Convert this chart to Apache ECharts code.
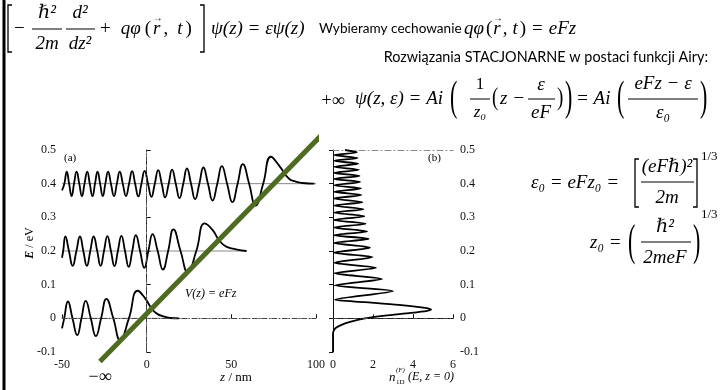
<!DOCTYPE html>
<html>
<head>
<meta charset="utf-8">
<script src="https://cdn.jsdelivr.net/npm/echarts@6/dist/echarts.min.js"></script>
<style>
html, body { margin: 0; padding: 0; background: #fff; }
#chart { width: 724px; height: 390px; }
</style>
</head>
<body>
<div id="chart"></div>
<script>
// funkcje falowe Airy'ego dla trzech poziomow [z (nm), E (eV)]
let psi04 = [[-50, 0.38], [-48.6, 0.4], [-47.2, 0.436], [-45.8, 0.4], [-44.3, 0.363], [-42.9, 0.4], [-41.4, 0.436],
	[-39.8, 0.4], [-38.2, 0.363], [-36.7, 0.4], [-35.1, 0.436], [-33.6, 0.4], [-32, 0.363], [-30.5, 0.4], [-29, 0.436],
	[-27.5, 0.4], [-25.9, 0.363], [-24.4, 0.4], [-22.8, 0.436], [-21.1, 0.4], [-19.3, 0.363], [-17.6, 0.4], [-15.9, 0.436],
	[-14.1, 0.4], [-12.2, 0.363], [-10.4, 0.4], [-8.6, 0.437], [-6.8, 0.4], [-4.9, 0.362], [-3.1, 0.4], [-1.2, 0.438],
	[0.8, 0.4], [2.8, 0.361], [4.8, 0.4], [6.8, 0.44], [8.9, 0.4], [10.9, 0.359], [13, 0.4], [15, 0.442], [17.2, 0.4],
	[19.4, 0.357], [21.6, 0.4], [23.8, 0.445], [26.2, 0.4], [28.6, 0.354], [31.1, 0.4], [33.5, 0.448], [36.2, 0.4],
	[38.9, 0.35], [41.7, 0.4], [44.4, 0.452], [47.5, 0.4], [50.6, 0.345], [53.7, 0.4], [56.8, 0.458], [60.5, 0.4],
	[64.3, 0.335], [68.8, 0.4], [73.4, 0.48], [78, 0.455], [84, 0.415], [88, 0.406], [92, 0.402], [99, 0.4]]
let psi02 = [[-50, 0.18], [-49.3, 0.2], [-48, 0.243], [-45.9, 0.2], [-43.7, 0.156], [-41.5, 0.2], [-39.4, 0.243],
	[-37.4, 0.2], [-35.3, 0.156], [-33.3, 0.2], [-31.3, 0.243], [-29.2, 0.2], [-27.2, 0.156], [-25.2, 0.2],
	[-23.2, 0.244], [-21.1, 0.2], [-19, 0.155], [-17, 0.2], [-14.9, 0.245], [-12.8, 0.2], [-10.6, 0.153], [-8.5, 0.2],
	[-6.4, 0.247], [-3.9, 0.2], [-1.4, 0.15], [1, 0.2], [3.5, 0.25], [6.5, 0.2], [9.6, 0.145], [12.7, 0.2],
	[15.8, 0.264], [20, 0.2], [24.3, 0.137], [29.3, 0.2], [34.3, 0.282], [39, 0.262], [43, 0.23], [47, 0.213],
	[52.7, 0.205], [59, 0.2]]
let psi00 = [[-50, -0.03], [-48.7, 0], [-46.5, 0.05], [-43.8, 0], [-41, -0.05], [-38.5, 0], [-36, 0.052], [-33, 0],
	[-30, -0.053], [-26.9, 0], [-23.8, 0.058], [-19.7, 0], [-15.6, -0.065], [-10.5, 0], [-5.3, 0.082], [-1, 0.06],
	[2.8, 0.03], [6, 0.014], [10.6, 0.005], [14, 0.001], [19, 0]]
// linie odniesienia poziomow energii [E, z od, z do]
let levels = [[0.4, -50, 100], [0.2, -50, 59], [0, -50, 19]]
// potencjal V(z) = eFz (zielona prosta)
let potential = [[-27.6, -0.128], [113.5, 0.597]]
// gestosc stanow n_1D(E, z=0) [n, E]
let dos = [[0, -0.1], [0, -0.045], [0.05, -0.035], [0.15, -0.028], [0.4, -0.02], [0.9, -0.01], [1.6, 0],
	[2.6, 0.008], [3.9, 0.016], [4.7, 0.022], [4.9, 0.026], [4.6, 0.031], [3.3, 0.04], [1.6, 0.048], [0.1, 0.055],
	[3.0, 0.081], [0.08, 0.098], [2.45, 0.117], [0.07, 0.134], [2.15, 0.15], [0.06, 0.165], [1.98, 0.182],
	[0.06, 0.195], [1.85, 0.21], [0.05, 0.224], [1.78, 0.236], [0.05, 0.247], [1.7, 0.258], [0.05, 0.27],
	[1.63, 0.281], [0.05, 0.292], [1.57, 0.303], [0.05, 0.314], [1.52, 0.324], [0.05, 0.335], [1.47, 0.345],
	[0.05, 0.356], [1.43, 0.366], [0.05, 0.376], [1.4, 0.386], [0.05, 0.395], [1.36, 0.405], [0.05, 0.414],
	[1.33, 0.423], [0.05, 0.432], [1.3, 0.441], [0.05, 0.45], [1.27, 0.459], [0.05, 0.468], [1.24, 0.476],
	[0.05, 0.485], [1.2, 0.493], [0.6, 0.5]]

let chart = echarts.init(document.getElementById('chart'))

let serif = "'Liberation Serif', 'DejaVu Serif', serif"
let sans = "Lato, 'Open Sans', sans-serif"
let M = 19 // rozmiar czcionki wzorow

let ctx = document.createElement('canvas').getContext('2d')
function width(s, size, it) {
	ctx.font = (it ? 'italic ' : '') + size + 'px ' + serif
	return ctx.measureText(s).width
}

function txt(x, y, s, size, o) {
	o = o || {}
	return {
		type: 'text', x: x, y: y, z: 100,
		rotation: o.rot || 0, scaleY: o.sy || 1,
		style: {
			text: s, fill: '#000', fontSize: size,
			fontFamily: o.family || serif,
			fontStyle: o.it ? 'italic' : 'normal',
			fontWeight: o.bold ? 'bold' : 'normal',
			rich: o.rich,
			textAlign: o.align || 'left', align: o.align || 'left',
			textVerticalAlign: 'middle', verticalAlign: 'middle'
		}
	}
}
// ciag kawalkow wzoru: [tekst, rozmiar, kursywa, odstep, wektor]
function row(x, y, parts) {
	let out = []
	parts.forEach(function(p) {
		let w = width(p[0], p[1], p[2])
		out.push(txt(x, y, p[0], p[1], { it: p[2] }))
		if (p[4]) out.push(txt(x + w / 2 + 1, y - 11, '→', 10, { align: 'center' }))
		x += w + (p[3] || 0)
	})
	return out
}
function bar(x1, x2, y) {
	return { type: 'line', z: 100, shape: { x1: x1, y1: y, x2: x2, y2: y }, style: { stroke: '#000', lineWidth: 1 } }
}
function bracket(x, y1, y2, dir) {
	return {
		type: 'polyline', z: 100,
		shape: { points: [[x + 4 * dir, y1], [x, y1], [x, y2], [x + 4 * dir, y2]] },
		style: { stroke: '#000', lineWidth: 1.3, fill: null }
	}
}

let graphics = [
	{ type: 'line', z: 100, shape: { x1: 4, y1: 0, x2: 4, y2: 390 }, style: { stroke: '#000', lineWidth: 3 } },
	// rownanie Schrodingera
	bracket(8, 5, 52, 1),
	txt(14, 29, '−', M),
	txt(47, 13, 'ℏ²', M, { it: 1, align: 'center' }),
	bar(32, 62, 29),
	txt(47, 44, '2m', M, { it: 1, align: 'center' }),
	txt(80, 13, 'd²', M, { it: 1, align: 'center' }),
	bar(66, 95, 29),
	txt(80, 44, 'dz²', M, { it: 1, align: 'center' })
].concat(
	row(100, 29, [['+', M, 0, 10], ['qφ', M, 1, 4], ['(', M, 0, 2], ['r', M, 1, 3, 1], [',', M, 0, 9], ['t', M, 1, 3], [')', M, 0, 0]]),
	[
		bracket(204, 5, 52, -1),
		txt(211, 29, 'ψ(z) = εψ(z)', M, { it: 1 }),
		txt(319, 29, 'Wybieramy cechowanie', 13.6, { family: sans })
	],
	row(464, 29, [['qφ', M, 1, 2], ['(', M, 0, 1], ['r', M, 1, 2, 1], [',', M, 0, 5], ['t', M, 1, 2], [')', M, 0, 6], ['=', M, 0, 6], ['eFz', M, 1, 0]]),
	[
		txt(708, 57, 'Rozwiązania STACJONARNE w postaci funkcji Airy:', 14.4, { family: sans, align: 'right' }),
		// psi(z, eps)
		txt(355, 99, 'ψ(z, ε) = Ai', M, { it: 1 }),
		txt(450, 99, '(', 22, { sy: 1.9 }),
		txt(480, 85, '1', 17, { align: 'center' }),
		bar(470, 490, 99),
		txt(480, 113, 'z₀', 17, { it: 1, align: 'center' }),
		txt(492, 99, '(', M, { sy: 1.3 }),
		txt(500, 99, 'z −', M, { it: 1 }),
		txt(541, 85, 'ε', M, { it: 1, align: 'center' }),
		bar(528, 555, 99),
		txt(541, 113, 'eF', M, { it: 1, align: 'center' }),
		txt(557, 99, ')', M, { sy: 1.3 }),
		txt(565, 99, ')', 22, { sy: 1.9 }),
		txt(576, 99, '= Ai', M, { it: 1 }),
		txt(617, 99, '(', 22, { sy: 1.9 }),
		txt(663, 84, 'eFz − ε', M, { it: 1, align: 'center' }),
		bar(628, 698, 99),
		txt(663, 113, 'ε₀', M, { it: 1, align: 'center' }),
		txt(700, 99, ')', 22, { sy: 1.9 }),
		// eps0
		txt(531, 183, 'ε₀ = eFz₀ =', M, { it: 1 }),
		bracket(635, 159, 207, 1),
		txt(667, 167, '(eFℏ)²', M, { it: 1, align: 'center' }),
		bar(641, 694, 182),
		txt(667, 198, '2m', M, { it: 1, align: 'center' }),
		bracket(697, 159, 207, -1),
		txt(701, 157, '1/3', 13),
		// z0
		txt(590, 243, 'z₀ =', M, { it: 1 }),
		txt(628, 243, '(', 22, { sy: 2 }),
		txt(665, 227, 'ℏ²', M, { it: 1, align: 'center' }),
		bar(641, 691, 242),
		txt(665, 258, '2meF', M, { it: 1, align: 'center' }),
		txt(693, 243, ')', 22, { sy: 2 }),
		txt(701, 215, '1/3', 13),
		// nieskonczonosci
		txt(333, 101, '+∞', 18, { align: 'center' }),
		txt(100, 377, '−∞', 18, { align: 'center' }),
		// opisy wykresow
		txt(64, 158, '(a)', 11),
		txt(428, 158, '(b)', 11),
		txt(185, 294, 'V(z) = eFz', 12, { it: 1 }),
		txt(30, 243, '{b|E} / eV', 12, { align: 'center', rot: Math.PI / 2, rich: { b: { fontWeight: 'bold', fontStyle: 'italic', fontSize: 12, fontFamily: serif } } }),
		txt(236, 378, '{i|z} / nm', 13, { align: 'center', rich: { i: { fontStyle: 'italic', fontSize: 13, fontFamily: serif } } }),
		txt(389, 378, 'n', 13, { it: 1 }),
		txt(396, 370, '(F)', 7, { it: 1 }),
		txt(396, 382, '1D', 7),
		txt(408, 377, '(E, z = 0)', 12, { it: 1 })
	]
)

let tickLabel = { color: '#111', fontFamily: serif, fontSize: 12 }
let solidAxis = { lineStyle: { color: '#111', width: 1 } }
let dashAxis = { lineStyle: { color: '#888', width: 1, type: [6, 3, 1, 3] } }

let option = {
	animation: false,
	graphic: graphics,
	grid: [
		{ left: 62, right: 408, top: 150, bottom: 38, outerBoundsMode: 'none' },
		{ left: 333, right: 271, top: 150, bottom: 38, outerBoundsMode: 'none' }
	],
	xAxis: [
		{ gridIndex: 0, type: 'value', min: -50, max: 100, interval: 50, axisLine: dashAxis,
			axisTick: { inside: true, length: 4, lineStyle: { color: '#111' } }, splitLine: { show: false },
			axisLabel: Object.assign({ margin: 7 }, tickLabel) },
		{ gridIndex: 1, type: 'value', min: 0, max: 6, interval: 2, axisLine: solidAxis,
			axisTick: { inside: true, length: 4, lineStyle: { color: '#111' } }, splitLine: { show: false },
			axisLabel: Object.assign({ margin: 7 }, tickLabel) },
		{ gridIndex: 0, type: 'value', position: 'top', min: -50, max: 100, axisLine: dashAxis,
			axisTick: { show: false }, axisLabel: { show: false }, splitLine: { show: false } },
		{ gridIndex: 1, type: 'value', position: 'top', min: 0, max: 6, axisLine: dashAxis,
			axisTick: { show: false }, axisLabel: { show: false }, splitLine: { show: false } }
	],
	yAxis: [
		{ gridIndex: 0, type: 'value', min: -0.1, max: 0.5, interval: 0.1, axisLine: solidAxis,
			axisTick: { inside: true, length: 4, lineStyle: { color: '#111' } }, splitLine: { show: false },
			axisLabel: Object.assign({ margin: 6, formatter: v => +v.toFixed(1) }, tickLabel) },
		{ gridIndex: 1, type: 'value', position: 'right', min: -0.1, max: 0.5, interval: 0.1, axisLine: solidAxis,
			axisTick: { inside: true, length: 4, lineStyle: { color: '#111' } }, splitLine: { show: false },
			axisLabel: Object.assign({ margin: 7, formatter: v => +v.toFixed(1) }, tickLabel) },
		{ gridIndex: 0, type: 'value', position: 'right', min: -0.1, max: 0.5, axisLine: dashAxis,
			axisTick: { show: false }, axisLabel: { show: false }, splitLine: { show: false } }
	],
	series: []
}

levels.forEach(function(l) {
	option.series.push({
		type: 'line', xAxisIndex: 0, yAxisIndex: 0, z: 1, showSymbol: false, silent: true,
		data: [[l[1], l[0]], [l[2], l[0]]],
		lineStyle: { color: '#888', width: 1 }
	})
});
[psi04, psi02, psi00].forEach(function(d) {
	option.series.push({
		type: 'line', xAxisIndex: 0, yAxisIndex: 0, z: 3, showSymbol: false, smooth: 0.5, data: d,
		lineStyle: { color: '#000', width: 1.8 }
	})
})
option.series.push({
	type: 'line', xAxisIndex: 0, yAxisIndex: 0, z: 2, data: [], silent: true,
	markLine: {
		symbol: 'none', silent: true, label: { show: false },
		lineStyle: { color: '#444', width: 1, type: [5, 2, 1, 2] },
		data: [{ xAxis: 0 }, { yAxis: 0 }]
	}
})
option.series.push({
	type: 'line', xAxisIndex: 1, yAxisIndex: 1, z: 2, data: [], silent: true,
	markLine: {
		symbol: 'none', silent: true, label: { show: false },
		lineStyle: { color: '#444', width: 1, type: [5, 2, 1, 2] },
		data: [{ yAxis: 0 }]
	}
})
option.series.push({
	type: 'line', xAxisIndex: 1, yAxisIndex: 1, z: 3, showSymbol: false, smooth: 0.25, data: dos,
	lineStyle: { color: '#000', width: 1.8 }
})
option.series.push({
	type: 'line', xAxisIndex: 0, yAxisIndex: 0, z: 10, showSymbol: false, clip: false, data: potential,
	lineStyle: { color: '#4f6b22', width: 5 }
})

chart.setOption(option)
</script>
</body>
</html>
